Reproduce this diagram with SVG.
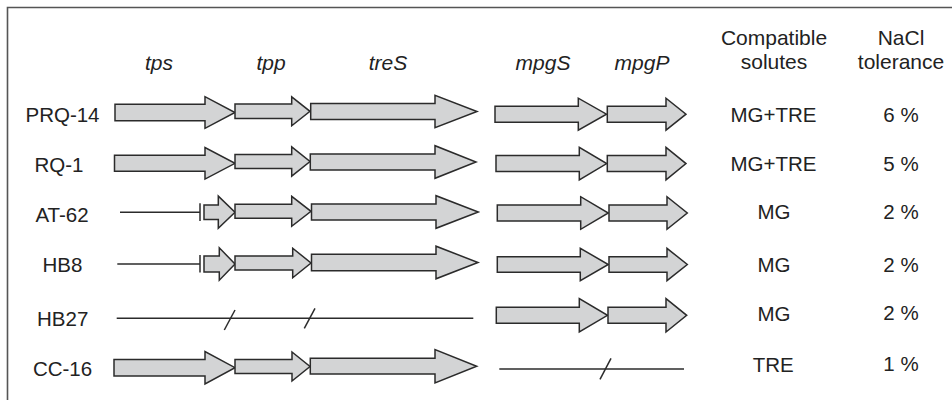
<svg xmlns="http://www.w3.org/2000/svg" width="952" height="400" viewBox="0 0 952 400">
<style>
  .gene { fill: #d3d4d5; stroke: #2b2b2b; stroke-width: 1.5; stroke-linejoin: miter; }
  .ln { stroke: #2b2b2b; stroke-width: 1.5; fill: none; }
  .frame { stroke: #555; stroke-width: 1.6; fill: none; }
  text { font-family: "Liberation Sans", Arial, sans-serif; fill: #222; }
  .hd { font-size: 21px; text-anchor: middle; }
  .gn { font-size: 21px; font-style: italic; text-anchor: middle; }
  .lb { font-size: 20.5px; text-anchor: middle; }
</style>
<rect x="0" y="0" width="952" height="400" fill="#ffffff"/>
<g id="frame">
  <polyline class="frame" points="7.5,400 7.5,7.5 952,7.5"/>
</g>
<g id="headers">
  <text class="gn" x="159" y="70">tps</text>
  <text class="gn" x="271" y="70">tpp</text>
  <text class="gn" x="388" y="70">treS</text>
  <text class="gn" x="543" y="70">mpgS</text>
  <text class="gn" x="642" y="70">mpgP</text>
  <text class="hd" x="774" y="45">Compatible</text>
  <text class="hd" x="774" y="68.5">solutes</text>
  <text class="hd" x="901" y="45">NaCl</text>
  <text class="hd" x="901" y="68.5">tolerance</text>
</g>
<g id="row-PRQ-14">
  <text class="lb" x="62.5" y="121.7">PRQ-14</text>
  <polygon class="gene" points="115,104.3 205,104.3 205,96.7 235,112.5 205,128.3 205,120.7 115,120.7"/>
  <polygon class="gene" points="235,104.1 291.7,104.1 291.7,96.8 310,111.3 291.7,125.8 291.7,118.5 235,118.5"/>
  <polygon class="gene" points="310.7,103.6 435,103.6 435,95.3 477,111.5 435,127.7 435,119.4 310.7,119.4"/>
  <polygon class="gene" points="495,106.2 578.3,106.2 578.3,98.2 606.5,114.2 578.3,130.2 578.3,122.2 495,122.2"/>
  <polygon class="gene" points="607.3,106.2 666,106.2 666,98.2 686,114.2 666,130.2 666,122.2 607.3,122.2"/>
  <text class="lb" x="773.5" y="121.7">MG+TRE</text>
  <text class="lb" x="901" y="121.7">6 %</text>
</g>
<g id="row-RQ-1">
  <text class="lb" x="59" y="171.7">RQ-1</text>
  <polygon class="gene" points="114.5,155.3 205,155.3 205,147.5 235,163.3 205,179.1 205,171.3 114.5,171.3"/>
  <polygon class="gene" points="235,154.5 291.7,154.5 291.7,146.9 310,161.5 291.7,176.1 291.7,168.5 235,168.5"/>
  <polygon class="gene" points="310.3,154 435,154 435,145.7 476,162 435,178.3 435,170 310.3,170"/>
  <polygon class="gene" points="496,155.6 579.3,155.6 579.3,147.3 606.7,163.6 579.3,179.9 579.3,171.6 496,171.6"/>
  <polygon class="gene" points="607.3,155.6 666,155.6 666,147.3 686,163.6 666,179.9 666,171.6 607.3,171.6"/>
  <text class="lb" x="773.5" y="170.5">MG+TRE</text>
  <text class="lb" x="901" y="170.5">5 %</text>
</g>
<g id="row-AT-62">
  <text class="lb" x="62" y="221.7">AT-62</text>
  <line class="ln" x1="120" y1="212.3" x2="200" y2="212.3"/>
  <line class="ln" x1="200" y1="203.3" x2="200" y2="221"/>
  <polygon class="gene" points="204,205 218.3,205 218.3,196.1 235,212.2 218.3,228.3 218.3,219.4 204,219.4"/>
  <polygon class="gene" points="235,204.3 291.7,204.3 291.7,196.3 311,211.3 291.7,226.3 291.7,218.3 235,218.3"/>
  <polygon class="gene" points="311.5,204 436,204 436,195.7 478.3,212 436,228.3 436,220 311.5,220"/>
  <polygon class="gene" points="497.3,205 580.7,205 580.7,196.7 608.3,213 580.7,229.3 580.7,221 497.3,221"/>
  <polygon class="gene" points="609,205 667,205 667,196.7 687.3,213 667,229.3 667,221 609,221"/>
  <text class="lb" x="774" y="218.5">MG</text>
  <text class="lb" x="901" y="218.5">2 %</text>
</g>
<g id="row-HB8">
  <text class="lb" x="62.5" y="271.7">HB8</text>
  <line class="ln" x1="117.3" y1="264" x2="200" y2="264"/>
  <line class="ln" x1="200" y1="255" x2="200" y2="272.5"/>
  <polygon class="gene" points="204,256 219.3,256 219.3,247.8 235,264 219.3,280.2 219.3,272 204,272"/>
  <polygon class="gene" points="235,256 292.7,256 292.7,248.2 311,263 292.7,277.8 292.7,270 235,270"/>
  <polygon class="gene" points="311.5,254.3 436,254.3 436,246.2 478,262.5 436,278.8 436,270.7 311.5,270.7"/>
  <polygon class="gene" points="497.3,256.7 580.3,256.7 580.3,248.3 608.3,264.5 580.3,280.7 580.3,272.3 497.3,272.3"/>
  <polygon class="gene" points="609,256.7 667,256.7 667,248.3 687.3,264.5 667,280.7 667,272.3 609,272.3"/>
  <text class="lb" x="774" y="271.7">MG</text>
  <text class="lb" x="901" y="271.7">2 %</text>
</g>
<g id="row-HB27">
  <text class="lb" x="62.7" y="325.7">HB27</text>
  <line class="ln" x1="116.7" y1="318.3" x2="473.3" y2="318.3"/>
  <line class="ln" x1="224.3" y1="330" x2="235" y2="310"/>
  <line class="ln" x1="304.3" y1="328.3" x2="315" y2="308.3"/>
  <polygon class="gene" points="496.3,307.3 579.3,307.3 579.3,298.6 607.5,315.3 579.3,332 579.3,323.3 496.3,323.3"/>
  <polygon class="gene" points="608,307.3 666,307.3 666,298.6 686.7,315.3 666,332 666,323.3 608,323.3"/>
  <text class="lb" x="774" y="320.7">MG</text>
  <text class="lb" x="901" y="319.5">2 %</text>
</g>
<g id="row-CC-16">
  <text class="lb" x="62.5" y="376">CC-16</text>
  <polygon class="gene" points="114,359.4 205,359.4 205,351.5 235,367.7 205,383.9 205,376 114,376"/>
  <polygon class="gene" points="235,359.5 292,359.5 292,352 310,366.5 292,381 292,373.5 235,373.5"/>
  <polygon class="gene" points="310.3,358.3 435,358.3 435,349.5 476.7,366.2 435,382.9 435,374 310.3,374"/>
  <line class="ln" x1="499.3" y1="369" x2="684" y2="369"/>
  <line class="ln" x1="600" y1="379.3" x2="611" y2="358.3"/>
  <text class="lb" x="773.3" y="371.7">TRE</text>
  <text class="lb" x="901" y="370.5">1 %</text>
</g>
<g id="connectors"></g>
</svg>
